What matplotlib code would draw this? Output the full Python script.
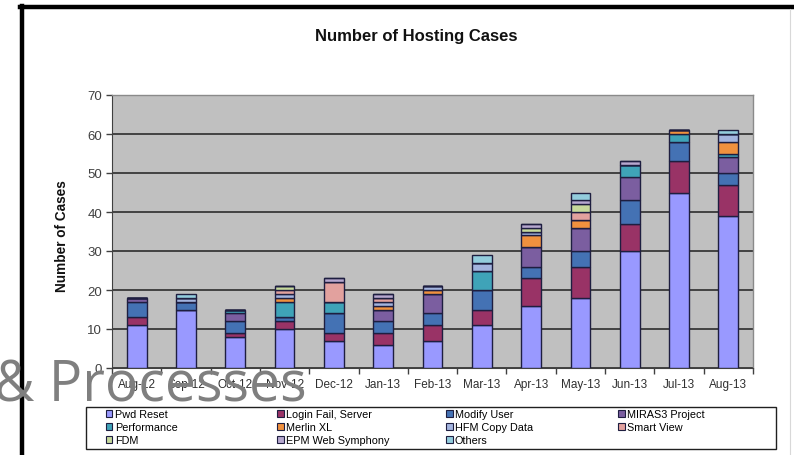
import matplotlib
matplotlib.use("Agg")
import matplotlib.pyplot as plt
import numpy as np
from matplotlib.patches import Patch, Rectangle
from matplotlib.lines import Line2D

months = ["Aug-12", "Sep-12", "Oct-12", "Nov-12", "Dec-12", "Jan-13", "Feb-13",
          "Mar-13", "Apr-13", "May-13", "Jun-13", "Jul-13", "Aug-13"]

series_names = ["Pwd Reset", "Login Fail, Server", "Modify User", "MIRAS3 Project",
                "Performance", "Merlin XL", "HFM Copy Data", "Smart View",
                "FDM", "EPM Web Symphony", "Others"]

pwd_reset   = [11, 15, 8, 10, 7, 6, 7, 11, 16, 18, 30, 45, 39]
login_fail  = [2, 0, 1, 2, 2, 3, 4, 4, 7, 8, 7, 8, 8]
modify_user = [4, 2, 3, 1, 5, 3, 3, 5, 3, 4, 6, 5, 3]
miras3      = [1, 0, 2, 0, 0, 3, 5, 0, 5, 6, 6, 0, 4]
performance = [0, 0, 1, 4, 3, 0, 0, 5, 0, 0, 3, 2, 1]
merlin_xl   = [0, 0, 0, 1, 0, 1, 1, 0, 3, 2, 0, 1, 3]
hfm_copy    = [0, 1, 0, 1, 0, 1, 1, 2, 1, 0, 0, 0, 2]
smart_view  = [0, 0, 0, 1, 5, 1, 0, 0, 0, 2, 0, 0, 0]
fdm         = [0, 0, 0, 1, 0, 0, 0, 0, 1, 2, 0, 0, 0]
epm_web     = [0, 0, 0, 0, 1, 1, 0, 0, 1, 1, 1, 0, 0]
others      = [0, 1, 0, 0, 0, 0, 0, 2, 0, 2, 0, 0, 1]

series_values = [pwd_reset, login_fail, modify_user, miras3, performance, merlin_xl,
                 hfm_copy, smart_view, fdm, epm_web, others]
colors = ["#9999FF", "#993366", "#4472B4", "#7B5EA0", "#3FA3B8", "#F0913E",
          "#A3B4DF", "#E2A19E", "#C6D99C", "#B6A8CF", "#93CDDD"]
edge = "#1E1E40"

yticks = [0, 10, 20, 30, 40, 50, 60, 70]

fig = plt.figure(figsize=(7.94, 4.56), dpi=100)
fig.patch.set_facecolor("white")

ax = fig.add_axes([112/794, 1-369/456, (753-112)/794, (369-96)/456])
ax.set_facecolor("#C0C0C0")

x = np.arange(len(months))
bottom = np.zeros(len(months))
for name, vals, c in zip(series_names, series_values, colors):
    v = np.array(vals, dtype=float)
    ax.bar(x, v, 0.40, bottom=bottom, color=c, edgecolor=edge, linewidth=1.0,
           zorder=3, label=name)
    bottom += v

ax.set_xlim(-0.5, len(months)-0.5)
ax.set_ylim(0, 70)
ax.set_yticks(yticks)
ax.set_yticklabels([str(t) for t in yticks], fontsize=9.5, color="#404040",
                   family="Liberation Sans")
ax.yaxis.grid(True, color="#202020", linewidth=1.1, zorder=1)
ax.set_axisbelow(True)
ax.tick_params(axis="y", length=4, width=1, color="#404040", pad=3)

ax.set_xticks(x)
ax.set_xticklabels(months, fontsize=8.5, color="#303030", family="Liberation Sans")
ax.set_xticks(np.arange(-0.5, len(months), 1), minor=True)
ax.tick_params(axis="x", which="major", length=0, pad=7)
ax.tick_params(axis="x", which="minor", length=4, width=1, color="#404040")

for s in ["top", "right"]:
    ax.spines[s].set_color("#8A8A8A")
    ax.spines[s].set_linewidth(1.0)
ax.spines["left"].set_color("#404040")
ax.spines["bottom"].set_color("#404040")

fig.text(416/794, 1-37/456, "Number of Hosting Cases", ha="center", va="center",
         fontsize=12, fontweight="bold", family="Liberation Sans", color="#111111")
fig.text(62/794, 1-236/456, "Number of Cases", ha="center", va="center",
         rotation=90, fontsize=9.8, fontweight="bold", family="Liberation Sans",
         color="#111111")

# legend box and four legend columns (rows read across)
fig.add_artist(Rectangle((86/794, 1-450/456), 690/794, 42/456,
                         transform=fig.transFigure, facecolor="white",
                         edgecolor="#202020", linewidth=1.0, zorder=5))
columns = [[0, 4, 8], [1, 5, 9], [2, 6, 10], [3, 7]]
col_x = [106, 277, 446, 618]
for cx, idxs in zip(col_x, columns):
    hs = [Patch(facecolor=colors[i], edgecolor=edge, linewidth=0.8) for i in idxs]
    ls = [series_names[i] for i in idxs]
    lg = fig.legend(hs, ls, loc="upper left", bbox_to_anchor=(cx/794, 1-410/456),
                    frameon=False, borderpad=0, borderaxespad=0,
                    handlelength=0.6, handleheight=0.6, handletextpad=0.2,
                    labelspacing=0.28, prop={"family": "Liberation Sans", "size": 7.8})
    lg.set_zorder(6)

# slide frame
fig.add_artist(Line2D([22/794, 22/794], [0, 1-7/456], transform=fig.transFigure,
                      color="black", linewidth=3.2))
fig.add_artist(Line2D([20/794, 1], [1-8/456, 1-8/456], transform=fig.transFigure,
                      color="black", linewidth=3.2))
fig.add_artist(Line2D([790/794, 790/794], [0, 1-10/456], transform=fig.transFigure,
                      color="#D8D8D8", linewidth=0.8))

# overlaid slide text
fig.text(-6/794, 1-402/456, "& Processes", ha="left", va="baseline",
         fontsize=40, family="Open Sans", color="#7F7F7F", zorder=10)

fig.savefig("out.png", dpi=100, facecolor="white")
